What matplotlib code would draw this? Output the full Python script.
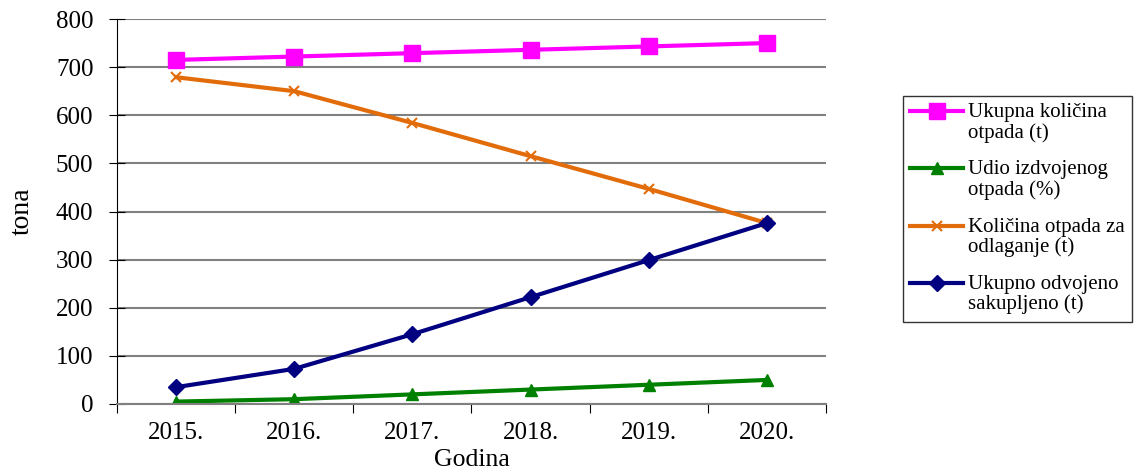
import numpy as np
import matplotlib.pyplot as plt
from matplotlib.legend_handler import HandlerLine2D

plt.rcParams['font.family'] = ['Liberation Serif', 'DejaVu Serif']

godine = ['2015.', '2016.', '2017.', '2018.', '2019.', '2020.']
ukupna_kolicina = [715, 722, 729, 736, 743, 750]
udio_izdvojenog = [5, 10, 20, 30, 40, 50]
za_odlaganje = [679, 650, 584, 515, 447, 376]
odvojeno_sakupljeno = [35, 73, 145, 222, 299, 376]

nazivi = ['Ukupna količina\notpada (t)', 'Udio izdvojenog\notpada (%)',
          'Količina otpada za\nodlaganje (t)', 'Ukupno odvojeno\nsakupljeno (t)']


# legend handle sits on the first text line, like in Excel
class PrviRed(HandlerLine2D):
    def create_artists(self, legend, orig_handle, xdescent, ydescent, width, height, fontsize, trans):
        art = super().create_artists(legend, orig_handle, xdescent, ydescent, width, height, fontsize, trans)
        for a in art:
            a.set_ydata(np.asarray(a.get_ydata()) + 0.55 * fontsize)
        return art


fig = plt.figure(figsize=(11.39, 4.72), dpi=100)
ax = fig.add_axes([117/1139, 1-404/472, 709/1139, 385/472])
x = np.arange(len(godine))

ax.plot(x, ukupna_kolicina, color='#ff00ff', lw=3, marker='s', ms=11, label=nazivi[0])
ax.plot(x, udio_izdvojenog, color='#008000', lw=3, marker='^', ms=8, label=nazivi[1])
ax.plot(x, za_odlaganje, color='#e36c0a', lw=3, marker='x', ms=7, mew=1.5, label=nazivi[2])
ax.plot(x, odvojeno_sakupljeno, color='#000080', lw=3, marker='D', ms=8, label=nazivi[3])

ax.set_xlim(-0.5, 5.5)
ax.set_ylim(0, 800)
ax.set_yticks(range(0, 801, 100))
ax.yaxis.grid(True, color='#808080', lw=1.5)
ax.set_axisbelow(True)
ax.set_xticks(np.arange(-0.5, 6, 1))
ax.set_xticklabels([])
ax.set_xticks(x, minor=True)
ax.set_xticklabels(godine, minor=True)
ax.tick_params(axis='x', which='minor', length=0, labelsize=18, pad=13)
ax.tick_params(axis='x', which='major', length=6.5, direction='out')
ax.tick_params(axis='y', labelsize=18, length=12, direction='inout', pad=11)
for s in ['top', 'right']:
    ax.spines[s].set_visible(False)
ax.spines['bottom'].set_color('#808080')
ax.spines['bottom'].set_linewidth(1.5)

ax.set_xlabel('Godina', fontsize=18.5, labelpad=3.5)
ax.set_ylabel('tona', fontsize=20, labelpad=15)

leg = fig.legend(loc='upper left', bbox_to_anchor=(903/1139, 1-96/472), fontsize=15,
                 frameon=True, fancybox=False, edgecolor='black', handlelength=2.55,
                 handletextpad=0.2, labelspacing=0.85, borderpad=0.35, borderaxespad=0,
                 handler_map={plt.Line2D: PrviRed()})
leg.get_frame().set_linewidth(1)
for t in leg.get_texts():
    t.set_linespacing(1.05)

fig.savefig('out.png', dpi=100)
